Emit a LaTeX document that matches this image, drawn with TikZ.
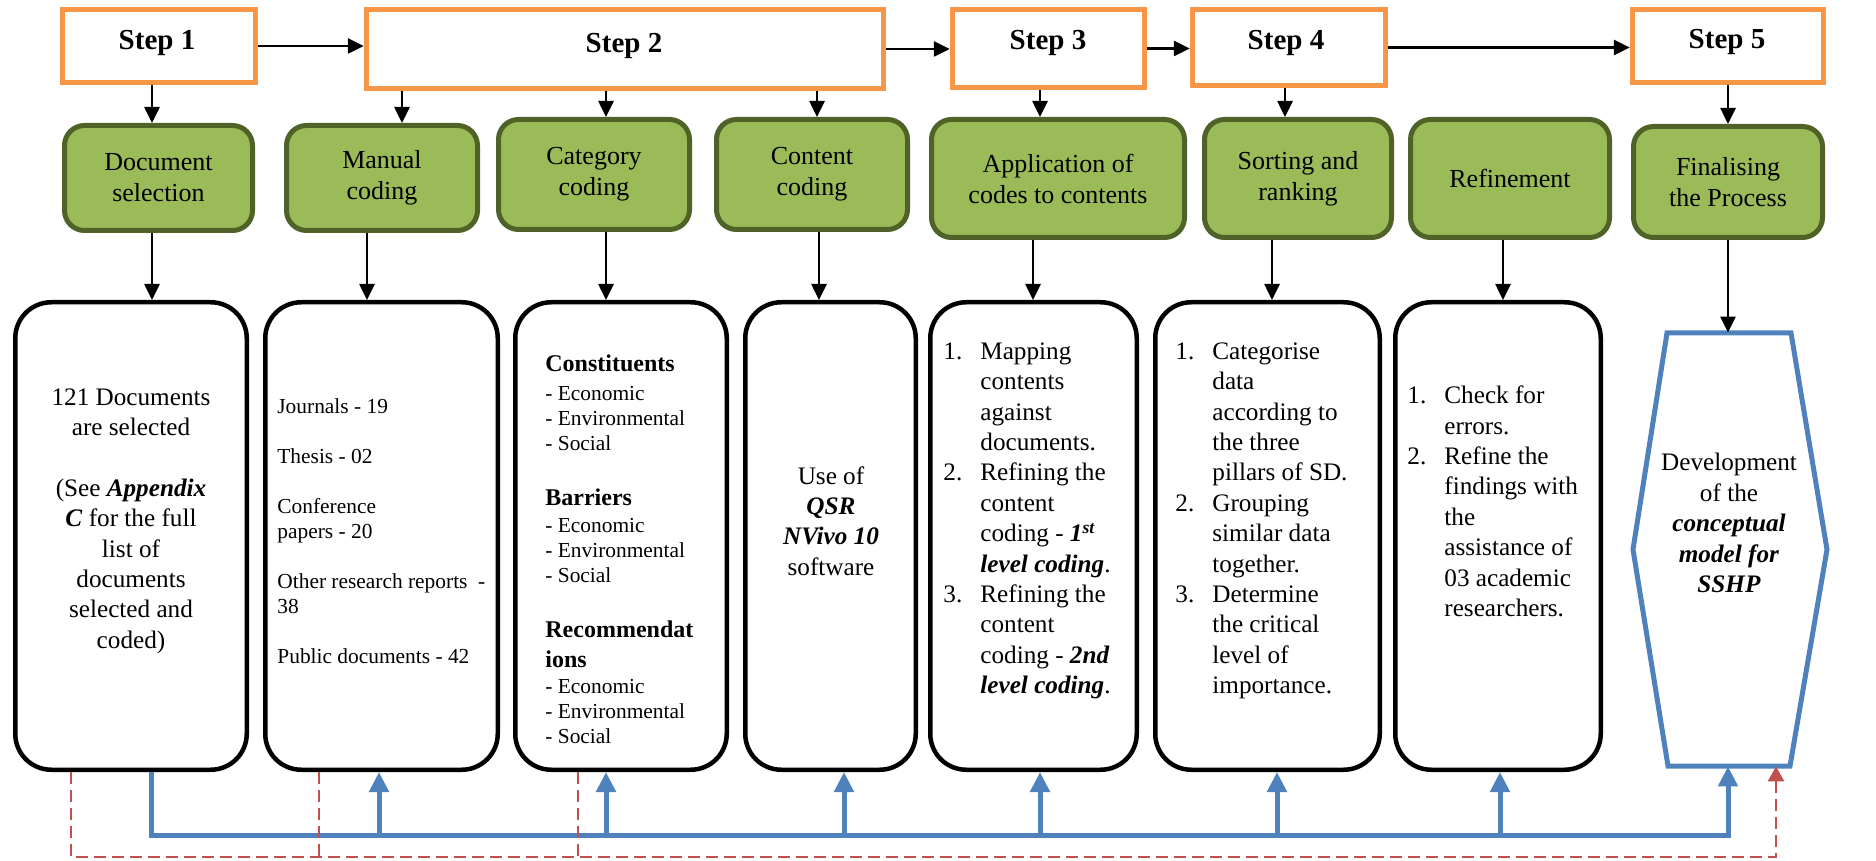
\documentclass[tikz,border=0pt]{standalone}
\usepackage{fontspec}
\setmainfont{Liberation Serif}
\usetikzlibrary{arrows.meta}

\definecolor{stepOrange}{HTML}{F79646}
\definecolor{leafGreen}{HTML}{9BBB59}
\definecolor{leafEdge}{HTML}{4F6228}
\definecolor{flowBlue}{HTML}{4F81BD}
\definecolor{loopRed}{HTML}{C0504D}

\newcommand\numlist[1]{\begin{tabular}{@{}p{18.5pt}@{}l@{}}#1\end{tabular}}
\newcommand\headfont{\fontsize{12}{12.5}\selectfont\bfseries}

\tikzset{
  stepbox/.style={draw=stepOrange, line width=2.5pt, fill=white, inner sep=0},
  steplabel/.style={font=\fontsize{14.5}{17}\selectfont\bfseries, inner sep=0},
  stagebox/.style={draw=leafEdge, fill=leafGreen, line width=2.5pt, rounded corners=10pt,
    inner sep=0, align=center, font=\fontsize{13}{15.5}\selectfont},
  detailbox/.style={draw=black, line width=2.25pt, rounded corners=18pt, inner sep=0,
    minimum height=233.75pt},
  bodytext/.style={font=\fontsize{12.6}{15.2}\selectfont, inner sep=0},
  smalltext/.style={font=\fontsize{10.7}{12.5}\selectfont, inner sep=0, align=left},
  flowarrow/.style={line width=1.3pt, -{Triangle[width=7.5pt,length=8pt]}},
  feedback/.style={draw=flowBlue, line width=2.5pt, -{Triangle[width=9.5pt,length=10pt]}},
  loopline/.style={draw=loopRed, line width=1.4pt, dash pattern=on 6pt off 3pt},
  hexline/.style={draw=flowBlue, line width=2.5pt},
}

\begin{document}
\begin{tikzpicture}[x=0.5pt, y=-0.5pt]
\useasboundingbox (0,0) rectangle (1876,861);

% ---- step boxes ----
\node[stepbox, minimum width=96.75pt, minimum height=36.75pt] (S1) at (159,46) {};
\node[stepbox, minimum width=258.75pt, minimum height=39.75pt] (S2) at (625,49) {};
\node[stepbox, minimum width=96.25pt, minimum height=39.25pt] (S3) at (1048.5,48.5) {};
\node[stepbox, minimum width=96.75pt, minimum height=38.25pt] (S4) at (1289,47.5) {};
\node[stepbox, minimum width=95.75pt, minimum height=36.75pt] (S5) at (1728,46) {};

\node[steplabel] (S1t) at (157,43) {Step 1};
\node[steplabel] (S2t) at (624,46) {Step 2};
\node[steplabel] (S3t) at (1048,43) {Step 3};
\node[steplabel] (S4t) at (1286,43) {Step 4};
\node[steplabel] (S5t) at (1727,42) {Step 5};

% ---- stage boxes ----
\node[stagebox, minimum width=94pt, minimum height=52.5pt] (G1) at (158.5,178) {Document\\selection};
\node[stagebox, minimum width=95.5pt, minimum height=52.5pt] (G2) at (382,178) {Manual\\coding};
\node[stagebox, minimum width=95.5pt, minimum height=55pt] (G3) at (594,174.5) {Category\\coding};
\node[stagebox, minimum width=95.5pt, minimum height=55pt] (G4) at (812,174.5) {Content\\coding};
\node[stagebox, minimum width=126.5pt, minimum height=59pt] (G5) at (1058,178.5) {Application of\\codes to contents};
\node[stagebox, minimum width=93.5pt, minimum height=59pt] (G6) at (1298,178.5) {Sorting and\\ranking};
\node[stagebox, minimum width=99.5pt, minimum height=59pt] (G7) at (1510,178.5) {Refinement};
\node[stagebox, minimum width=94.5pt, minimum height=55.5pt] (G8) at (1728,182) {Finalising\\the Process};

% ---- detail boxes ----
\node[detailbox, minimum width=115.75pt] (B1) at (131,536) {};
\node[detailbox, minimum width=116.25pt] (B2) at (381.5,536) {};
\node[detailbox, minimum width=105.75pt] (B3) at (621,536) {};
\node[detailbox, minimum width=85.25pt] (B4) at (830.5,536) {};
\node[detailbox, minimum width=103.25pt] (B5) at (1033.5,536) {};
\node[detailbox, minimum width=112.25pt] (B6) at (1267.5,536) {};
\node[detailbox, minimum width=102.75pt] (B7) at (1498,536) {};

% outcome hexagon
\node[inner sep=0, minimum width=97pt, minimum height=216.5pt] (hex) at (1730,549.5) {};
\draw[hexline] (1667,333) -- (1791,333) -- (1827,549.5) -- (1790,766) -- (1668,766) -- (1633,549.5) -- cycle;

% ---- box texts ----
\node[bodytext, align=center] (T1) at (131,521) {121 Documents\\are selected\\[15.2pt](See \textbf{\textit{Appendix}}\\\textbf{\textit{C}} for the full\\list of\\documents\\selected and\\coded)};

\node[smalltext, anchor=west] (T2) at (277,531.5) {Journals - 19\\[12.5pt]Thesis - 02\\[12.5pt]Conference\\papers - 20\\[12.5pt]Other research reports \ -\\38\\[12.5pt]Public documents - 42};

\node[smalltext, anchor=west] (T3) at (545,549) {%
{\headfont Constituents}\\[2pt]
- Economic\\
- Environmental\\
- Social\\[15pt]
{\headfont Barriers}\\[1pt]
- Economic\\
- Environmental\\
- Social\\[15pt]
{\headfont Recommendat}\\[2.5pt]
{\headfont ions}\\[0.5pt]
- Economic\\
- Environmental\\
- Social};

\node[bodytext, align=center] (T4) at (831,521) {Use of\\\textbf{\textit{QSR}}\\\textbf{\textit{NVivo 10}}\\software};

\node[bodytext, anchor=west] (T5) at (943,520.5) {\numlist{%
1. & Mapping\\
   & contents\\
   & against\\
   & documents.\\
2. & Refining the\\
   & content\\
   & coding - \textbf{\textit{1\textsuperscript{st}}}\\
   & \textbf{\textit{level coding}}.\\
3. & Refining the\\
   & content\\
   & coding - \textbf{\textit{2nd}}\\
   & \textbf{\textit{level coding}}.}};

\node[bodytext, anchor=west] (T6) at (1175,520.5) {\numlist{%
1. & Categorise\\
   & data\\
   & according to\\
   & the three\\
   & pillars of SD.\\
2. & Grouping\\
   & similar data\\
   & together.\\
3. & Determine\\
   & the critical\\
   & level of\\
   & importance.}};

\node[bodytext, anchor=west] (T7) at (1407,504) {\numlist{%
1. & Check for\\
   & errors.\\
2. & Refine the\\
   & findings with\\
   & the\\
   & assistance of\\
   & 03 academic\\
   & researchers.}};

\node[bodytext, align=center] (T8) at (1729,523) {Development\\of the\\\textbf{\textit{conceptual}}\\\textbf{\textit{model for}}\\\textbf{\textit{SSHP}}};

% ---- step sequence ----
\draw[flowarrow] (S1.east) -- (S1.east -| S2.west);
\draw[flowarrow] (S2.east) -- (S2.east -| S3.west);
\draw[flowarrow] (S3.east) -- (S3.east -| S4.west);
\draw[flowarrow] (S4.east) -- (S4.east -| S5.west);

% ---- column positions of the downward arrows ----
\coordinate (c1) at (152,0);
\coordinate (c2) at (402,0);
\coordinate (c3) at (606,0);
\coordinate (c4) at (817,0);
\coordinate (c5) at (1040,0);
\coordinate (c6) at (1285,0);
\coordinate (c8) at (1728,0);

\draw[flowarrow] (S1.south -| c1) -- (G1.north -| c1);
\draw[flowarrow] (S2.south -| c2) -- (G2.north -| c2);
\draw[flowarrow] (S2.south -| c3) -- (G3.north -| c3);
\draw[flowarrow] (S2.south -| c4) -- (G4.north -| c4);
\draw[flowarrow] (S3.south -| c5) -- (G5.north -| c5);
\draw[flowarrow] (S4.south -| c6) -- (G6.north -| c6);
\draw[flowarrow] (S5.south -| c8) -- (G8.north -| c8);

\coordinate (d1) at (152,0);
\coordinate (d2) at (367,0);
\coordinate (d3) at (606,0);
\coordinate (d4) at (819,0);
\coordinate (d5) at (1033,0);
\coordinate (d6) at (1272,0);
\coordinate (d7) at (1503,0);
\coordinate (d8) at (1728,0);

\draw[flowarrow] (G1.south -| d1) -- (B1.north -| d1);
\draw[flowarrow] (G2.south -| d2) -- (B2.north -| d2);
\draw[flowarrow] (G3.south -| d3) -- (B3.north -| d3);
\draw[flowarrow] (G4.south -| d4) -- (B4.north -| d4);
\draw[flowarrow] (G5.south -| d5) -- (B5.north -| d5);
\draw[flowarrow] (G6.south -| d6) -- (B6.north -| d6);
\draw[flowarrow] (G7.south -| d7) -- (B7.north -| d7);
\draw[flowarrow] (G8.south -| d8) -- (hex.north -| d8);

% ---- blue feedback bus ----
\coordinate (bl) at (151,835);
\coordinate (br) at (1728,835);
\coordinate (u2) at (379,835);
\coordinate (u3) at (606,835);
\coordinate (u4) at (844,835);
\coordinate (u5) at (1040,835);
\coordinate (u6) at (1277,835);
\coordinate (u7) at (1500,835);

\draw[feedback] (B1.south -| bl) -- (bl) -- (br) -- (br |- hex.south);
\draw[feedback] (u2) -- (u2 |- B2.south);
\draw[feedback] (u3) -- (u3 |- B3.south);
\draw[feedback] (u4) -- (u4 |- B4.south);
\draw[feedback] (u5) -- (u5 |- B5.south);
\draw[feedback] (u6) -- (u6 |- B6.south);
\draw[feedback] (u7) -- (u7 |- B7.south);

% ---- red dashed loop ----
\coordinate (r1) at (71,857);
\coordinate (r2) at (319,857);
\coordinate (r3) at (578,857);
\coordinate (r4) at (1776,857);

\draw[loopline, -{Triangle[width=8pt,length=7.5pt]}] (B1.south -| r1) -- (r1) -- (r4) -- (r4 |- hex.south);
\draw[loopline] (B2.south -| r2) -- (r2);
\draw[loopline] (B3.south -| r3) -- (r3);
\end{tikzpicture}
\end{document}
